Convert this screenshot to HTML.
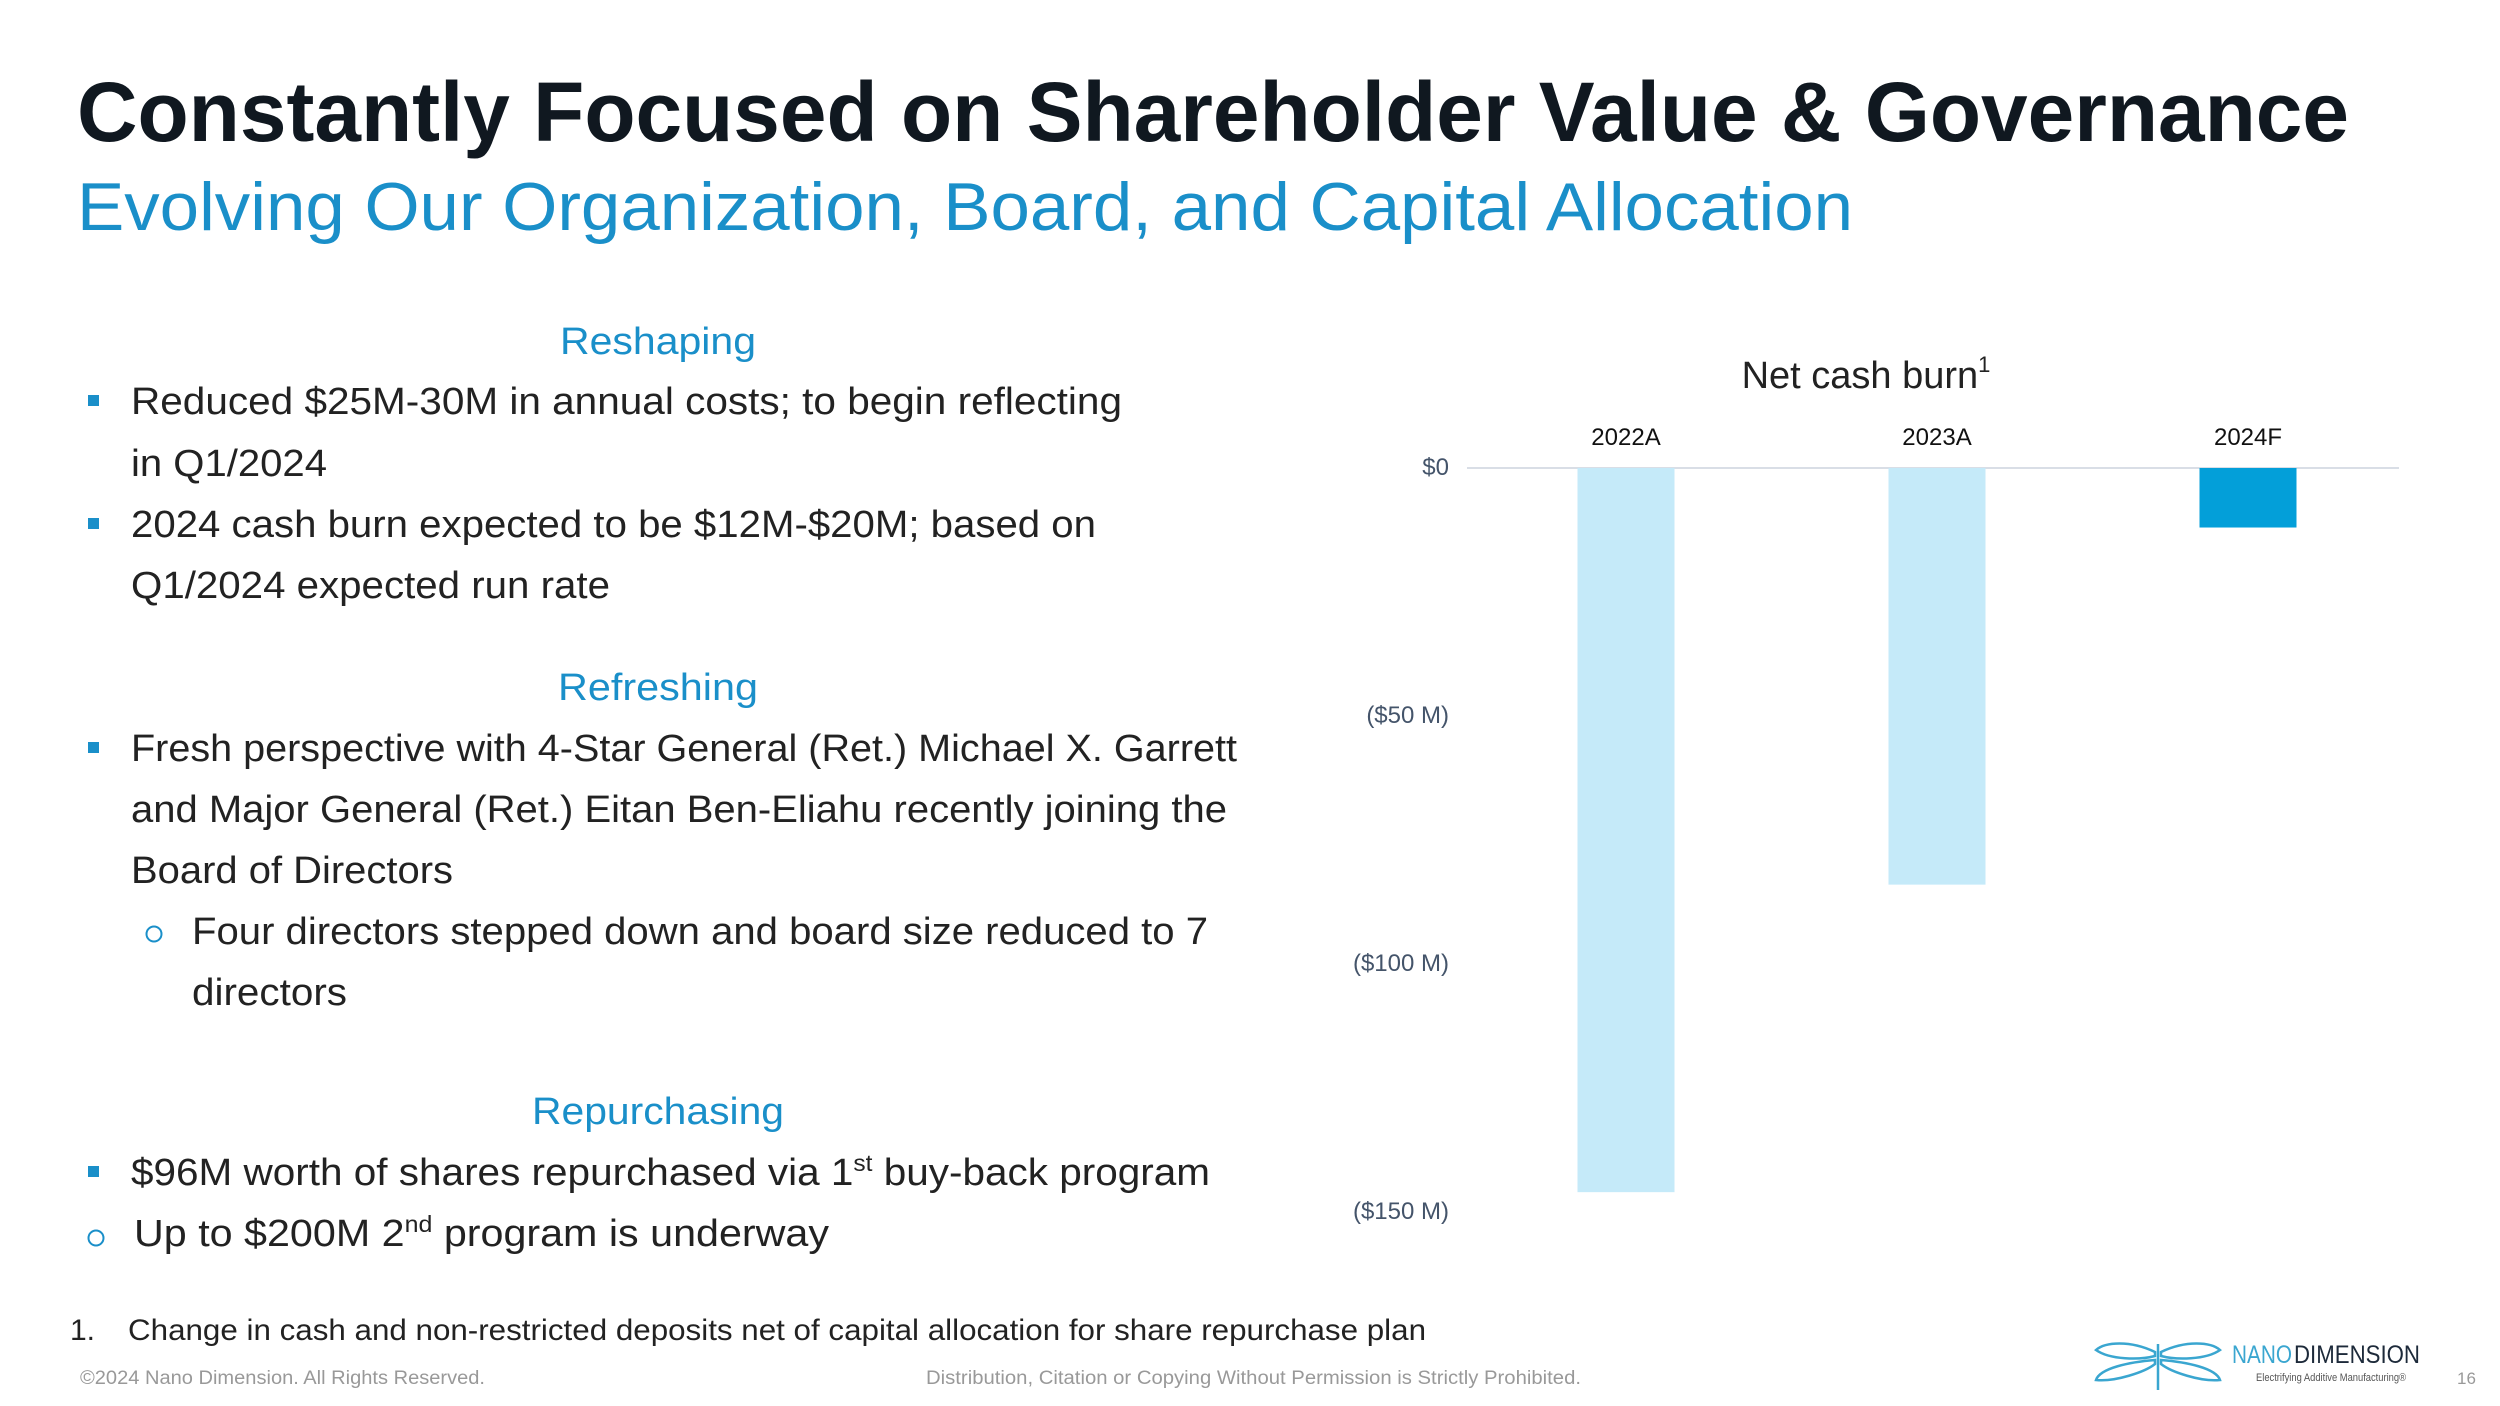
<!DOCTYPE html>
<html><head><meta charset="utf-8"><style>
html,body{margin:0;padding:0;background:#fff;}
svg{display:block;font-family:"Liberation Sans",sans-serif;}
</style></head><body>
<svg id="slide" width="2500" height="1406" viewBox="0 0 2500 1406" xmlns="http://www.w3.org/2000/svg">
<text x="77" y="141" font-size="84" font-weight="bold" fill="#101820" textLength="2272" lengthAdjust="spacingAndGlyphs">Constantly Focused on Shareholder Value &amp; Governance</text>
<text x="77" y="230" font-size="68" fill="#1a8fc9" textLength="1776" lengthAdjust="spacingAndGlyphs">Evolving Our Organization, Board, and Capital Allocation</text>

<g font-size="38" fill="#222">
<text x="658" y="354" text-anchor="middle" fill="#1a8fc9" font-size="38" textLength="196" lengthAdjust="spacingAndGlyphs">Reshaping</text>
<rect x="88" y="395" width="11" height="11" fill="#1a8fc9"/>
<text x="131" y="414" textLength="991" lengthAdjust="spacingAndGlyphs">Reduced $25M-30M in annual costs; to begin reflecting</text>
<text x="131" y="476" textLength="196" lengthAdjust="spacingAndGlyphs">in Q1/2024</text>
<rect x="88" y="518" width="11" height="11" fill="#1a8fc9"/>
<text x="131" y="537" textLength="965" lengthAdjust="spacingAndGlyphs">2024 cash burn expected to be $12M-$20M; based on</text>
<text x="131" y="598" textLength="479" lengthAdjust="spacingAndGlyphs">Q1/2024 expected run rate</text>

<text x="658" y="700" text-anchor="middle" fill="#1a8fc9" textLength="200" lengthAdjust="spacingAndGlyphs">Refreshing</text>
<rect x="88" y="742" width="11" height="11" fill="#1a8fc9"/>
<text x="131" y="761" textLength="1106" lengthAdjust="spacingAndGlyphs">Fresh perspective with 4-Star General (Ret.) Michael X. Garrett</text>
<text x="131" y="822" textLength="1096" lengthAdjust="spacingAndGlyphs">and Major General (Ret.) Eitan Ben-Eliahu recently joining the</text>
<text x="131" y="883" textLength="322" lengthAdjust="spacingAndGlyphs">Board of Directors</text>
<circle cx="154" cy="934" r="7.5" fill="none" stroke="#1a8fc9" stroke-width="2"/>
<text x="192" y="944" textLength="1016" lengthAdjust="spacingAndGlyphs">Four directors stepped down and board size reduced to 7</text>
<text x="192" y="1005" textLength="155" lengthAdjust="spacingAndGlyphs">directors</text>

<text x="658" y="1124" text-anchor="middle" fill="#1a8fc9" textLength="252" lengthAdjust="spacingAndGlyphs">Repurchasing</text>
<rect x="88" y="1166" width="11" height="11" fill="#1a8fc9"/>
<text x="131" y="1185" textLength="1079" lengthAdjust="spacingAndGlyphs">$96M worth of shares repurchased via 1<tspan font-size="23" dy="-14">st</tspan><tspan dy="14"> buy-back program</tspan></text>
<circle cx="96" cy="1238" r="7.5" fill="none" stroke="#1a8fc9" stroke-width="2"/>
<text x="134" y="1246" textLength="695" lengthAdjust="spacingAndGlyphs">Up to $200M 2<tspan font-size="23" dy="-14">nd</tspan><tspan dy="14"> program is underway</tspan></text>
</g>

<text x="70" y="1340" font-size="30" fill="#222">1.</text>
<text x="128" y="1340" font-size="30" fill="#222" textLength="1298" lengthAdjust="spacingAndGlyphs">Change in cash and non-restricted deposits net of capital allocation for share repurchase plan</text>
<text x="80" y="1384" font-size="19" fill="#999" textLength="405" lengthAdjust="spacingAndGlyphs">©2024 Nano Dimension. All Rights Reserved.</text>
<text x="926" y="1384" font-size="19" fill="#999" textLength="655" lengthAdjust="spacingAndGlyphs">Distribution, Citation or Copying Without Permission is Strictly Prohibited.</text>

<g>
<g stroke="#3aa6d0" stroke-width="2.5" fill="none">
<path d="M2158 1344 L2158 1390"/>
<path d="M2155 1352 C2130 1340 2105 1342 2096 1350 C2110 1360 2140 1360 2155 1356 Z"/>
<path d="M2161 1352 C2186 1340 2211 1342 2220 1350 C2206 1360 2176 1360 2161 1356 Z"/>
<path d="M2155 1360 C2130 1362 2100 1368 2096 1380 C2115 1382 2145 1372 2155 1364 Z"/>
<path d="M2161 1360 C2186 1362 2216 1368 2220 1380 C2201 1382 2171 1372 2161 1364 Z"/>
</g>
<text x="2232" y="1363" font-size="25" fill="#3aa6d0" textLength="60" lengthAdjust="spacingAndGlyphs">NANO</text>
<text x="2294" y="1363" font-size="25" fill="#1d2a3a" textLength="126" lengthAdjust="spacingAndGlyphs">DIMENSION</text>
<text x="2256" y="1381" font-size="11" fill="#555" textLength="150" lengthAdjust="spacingAndGlyphs">Electrifying Additive Manufacturing®</text>
</g>
<text x="2457" y="1384" font-size="17" fill="#999">16</text>

<g id="chart"></g>
</svg>
<script>
const categories = ["2022A","2023A","2024F"];
const values = [-146, -84, -12];
const tickValues = [0, -50, -100, -150];
const tickLabels = ["$0","($50 M)","($100 M)","($150 M)"];
const barColors = ["#c5eaf9","#c5eaf9","#039fd9"];

const NS = "http://www.w3.org/2000/svg";
const chart = document.getElementById("chart");
const y0 = 468, pxPer = 248/50;
const yScale = v => y0 - v * pxPer;
const plotLeft = 1467, plotRight = 2399;
const xCenter = i => 1626 + i * 311;
const barW = 97;

function mk(tag, attrs, text){
  const e = document.createElementNS(NS, tag);
  for (const k in attrs) e.setAttribute(k, attrs[k]);
  if (text !== undefined) e.textContent = text;
  chart.appendChild(e);
  return e;
}
const title = mk("text", {x:1866, y:388, "font-size":38, fill:"#222", "text-anchor":"middle"}, "Net cash burn");


const sup = document.createElementNS(NS, "tspan");
sup.setAttribute("font-size", "22"); sup.setAttribute("dy", "-16"); sup.textContent = "1";
title.appendChild(sup);

const axis = mk("line", {x1:plotLeft, x2:plotRight, y1:yScale(0), y2:yScale(0), stroke:"#d9dee6", "stroke-width":2});



tickValues.forEach((v, i) => {
  const t = mk("text", {x:1449, y:yScale(v) + 7, "font-size":24, fill:"#44546a", "text-anchor":"end"}, tickLabels[i]);
  
  
});

categories.forEach((c, i) => {
  const top = yScale(Math.max(0, values[i])), bot = yScale(Math.min(0, values[i]));
  const r = mk("rect", {x:xCenter(i) - barW/2, y:top, width:barW, height:bot - top, fill:barColors[i]});
  
  
  const l = mk("text", {x:xCenter(i), y:445, "font-size":24, fill:"#111", "text-anchor":"middle"}, c);
  
  
});
</script>
</body></html>
